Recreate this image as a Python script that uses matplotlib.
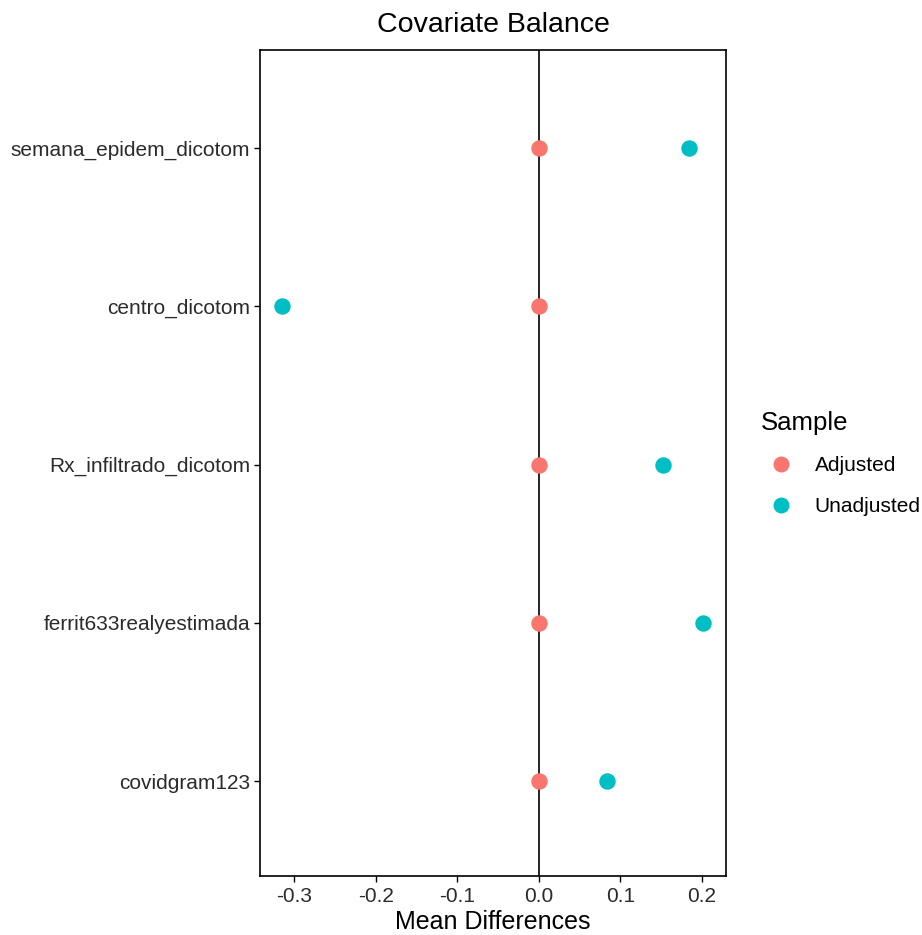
import matplotlib
matplotlib.use("Agg")
import matplotlib.pyplot as plt
from matplotlib.lines import Line2D

plt.rcParams['font.family'] = ['Liberation Sans', 'DejaVu Sans']

covariates = ["covidgram123", "ferrit633realyestimada", "Rx_infiltrado_dicotom",
              "centro_dicotom", "semana_epidem_dicotom"]
adjusted = [0.0, 0.0, 0.0, 0.0, 0.0]
unadjusted = [0.084, 0.201, 0.153, -0.315, 0.184]
xticks = [-0.3, -0.2, -0.1, 0.0, 0.1, 0.2]
xticklabels = ["-0.3", "-0.2", "-0.1", "0.0", "0.1", "0.2"]
col_adj = "#F8766D"
col_unadj = "#00BFC4"

fig = plt.figure(figsize=(9.22, 9.35), dpi=100)
ax = fig.add_axes([260/922, 1-876/935, (726-260)/922, (876-50)/935])

ypos = list(range(1, len(covariates) + 1))
ax.axvline(0, color="black", lw=1.2, zorder=1)
ax.scatter(unadjusted, ypos, s=140, color=col_unadj, zorder=3, linewidths=0)
ax.scatter(adjusted, ypos, s=140, color=col_adj, zorder=3, linewidths=0)

ax.set_xlim(-0.342, 0.2297)
ax.set_ylim(0.4, len(covariates) + 0.62)
ax.set_yticks(ypos)
ax.set_yticklabels(covariates, fontsize=15)
ax.set_xticks(xticks)
ax.set_xticklabels(xticklabels, fontsize=15)
ax.tick_params(axis="both", length=4, width=1, colors="black", labelcolor="#2b2b2b", pad=3)
ax.tick_params(axis="x", pad=4)
for sp in ax.spines.values():
    sp.set_linewidth(1.2)
ax.set_xlabel("Mean Differences", fontsize=18, labelpad=2.5)
ax.set_title("Covariate Balance", fontsize=20.5, pad=13)

handles = [Line2D([], [], marker="o", ls="", color=col_adj, markersize=11.5, markeredgewidth=0),
           Line2D([], [], marker="o", ls="", color=col_unadj, markersize=11.5, markeredgewidth=0)]
leg = fig.legend(handles, ["Adjusted", "Unadjusted"], title="Sample",
                 loc="upper left", bbox_to_anchor=(752/922, 1-403/935),
                 frameon=False, fontsize=15, title_fontsize=18.5,
                 handletextpad=0.6, labelspacing=1.05, borderaxespad=0)
leg._legend_box.align = "left"
leg._legend_box.sep = 15

fig.savefig("out.png", dpi=100)
